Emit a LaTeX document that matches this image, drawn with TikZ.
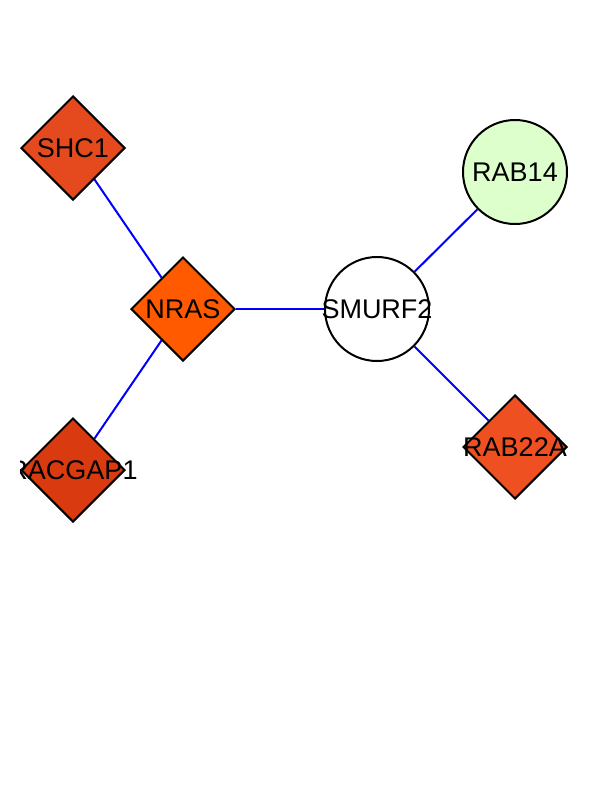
\documentclass[tikz,border=0pt]{standalone}
\usepackage{fontspec}
\setmainfont{Liberation Sans}
\usepackage{xcolor}
\usepackage{tikz}
\usetikzlibrary{shapes.geometric, backgrounds}

\definecolor{shcfill}{HTML}{E44A1E}
\definecolor{nrasfill}{HTML}{FF5A00}
\definecolor{racfill}{HTML}{D93A10}
\definecolor{rabfill}{HTML}{EE5022}
\definecolor{greenfill}{HTML}{DDFFCC}

\begin{document}
\begin{tikzpicture}[x=1pt, y=-1pt,
            gene_dia/.style={diamond, draw=black, line width=2pt, inner sep=0pt,
            minimum width=104pt, minimum height=104pt},
            gene_circ/.style={circle, draw=black, line width=2pt, inner sep=0pt,
            minimum size=104pt},
            gene_lbl/.style={font=\fontsize{27}{29}\selectfont, inner sep=0pt},
            ppi/.style={draw=blue, line width=2pt}
        ]

            \useasboundingbox (0,0) rectangle (612,792);

            \begin{scope}
            \clip (20,0) rectangle (612,792);

            % Diamond genes (left side)
            \node[gene_dia, fill=shcfill]  (shc1)    at (73, 148) {};
            \node[gene_dia, fill=nrasfill] (nras)    at (183,309) {};
            \node[gene_dia, fill=racfill]  (racgap1) at (73, 470) {};

            % Circle genes and RAB22A (right side)
            \node[gene_circ, fill=white]     (smurf2) at (377,309) {};
            \node[gene_circ, fill=greenfill] (rab14)  at (515,172) {};
            \node[gene_dia, fill=rabfill]    (rab22a) at (515,447) {};

            % Labels
            \node[gene_lbl] at (shc1)    {SHC1};
            \node[gene_lbl] at (nras)    {NRAS};
            \node[gene_lbl] at (racgap1) {RACGAP1};
            \node[gene_lbl] at (smurf2)  {SMURF2};
            \node[gene_lbl] at (rab14)   {RAB14};
            \node[gene_lbl] at (rab22a)  {RAB22A};
            \end{scope}

            % Interactions
            \begin{scope}[on background layer]
            \foreach \a/\b in {nras/shc1, nras/racgap1, nras/smurf2, smurf2/rab14, smurf2/rab22a} {
                \draw[ppi] (\a) -- (\b);
            }
            \end{scope}

        \end{tikzpicture}
\end{document}
